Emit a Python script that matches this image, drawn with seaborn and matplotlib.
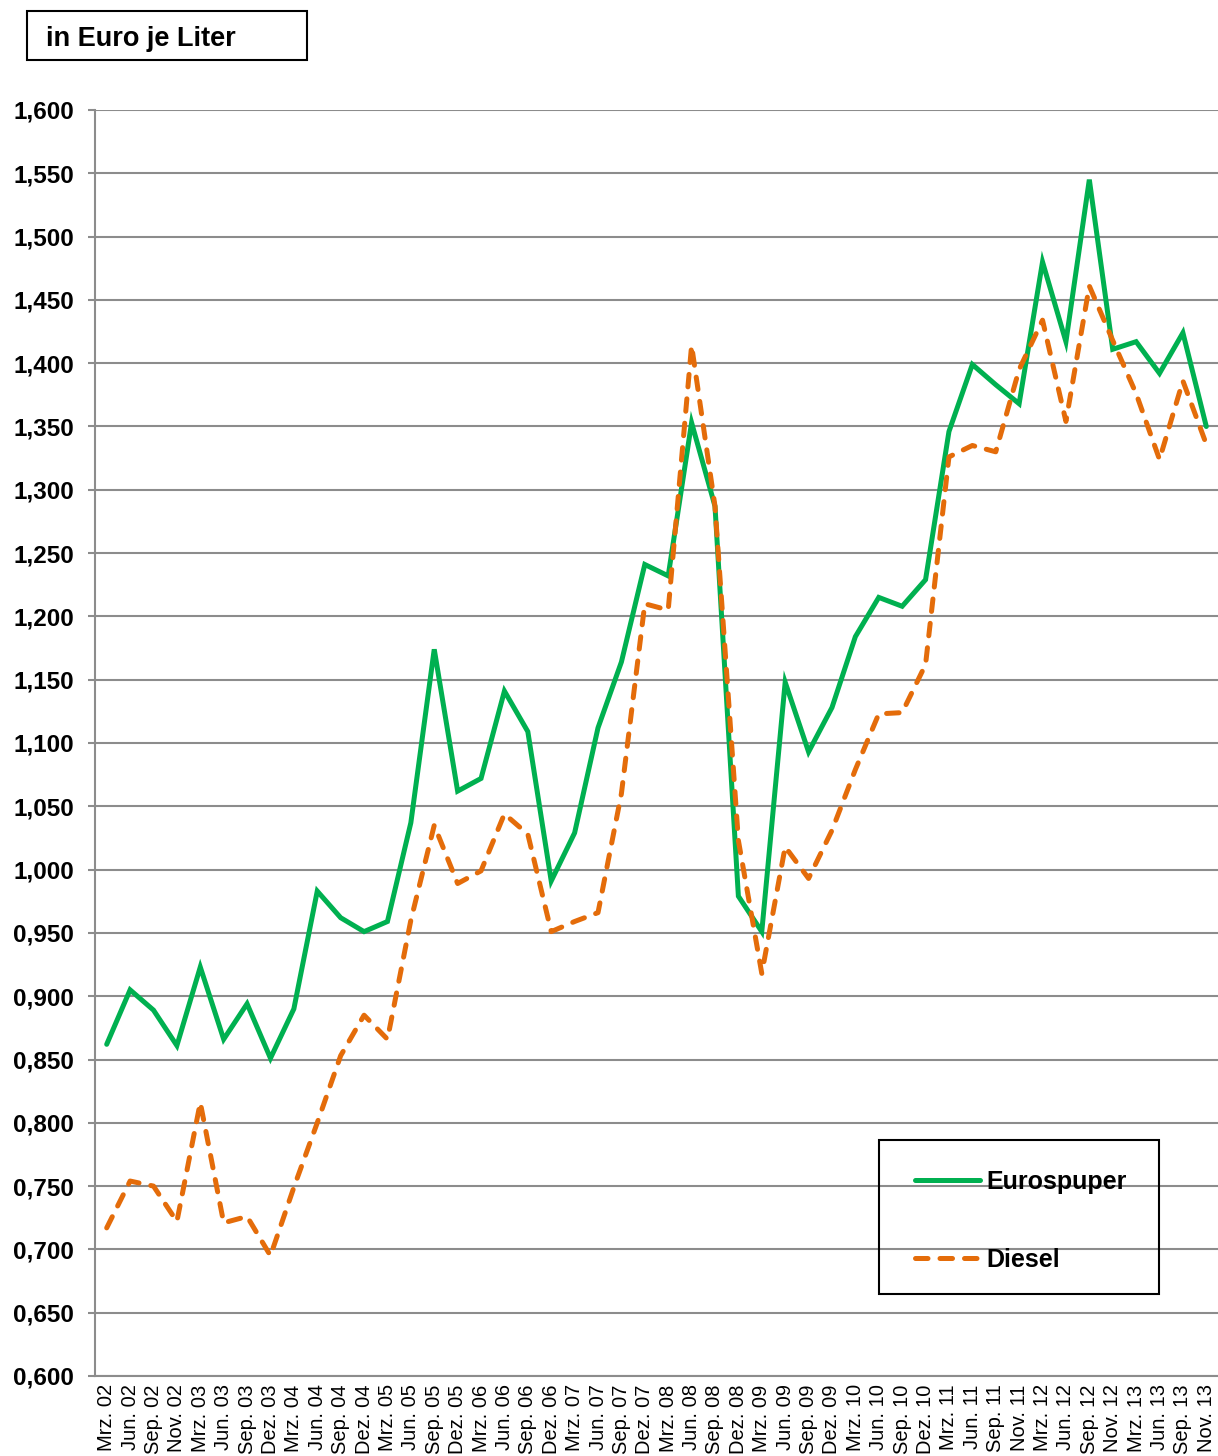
import numpy as np
import pandas as pd
import matplotlib
matplotlib.use("Agg")
import matplotlib.pyplot as plt
from matplotlib.patches import Rectangle
import seaborn as sns

# Quarterly fuel prices, Euro per litre
months = [
    "Mrz. 02", "Jun. 02", "Sep. 02", "Nov. 02",
    "Mrz. 03", "Jun. 03", "Sep. 03", "Dez. 03",
    "Mrz. 04", "Jun. 04", "Sep. 04", "Dez. 04",
    "Mrz. 05", "Jun. 05", "Sep. 05", "Dez. 05",
    "Mrz. 06", "Jun. 06", "Sep. 06", "Dez. 06",
    "Mrz. 07", "Jun. 07", "Sep. 07", "Dez. 07",
    "Mrz. 08", "Jun. 08", "Sep. 08", "Dez. 08",
    "Mrz. 09", "Jun. 09", "Sep. 09", "Dez. 09",
    "Mrz. 10", "Jun. 10", "Sep. 10", "Dez. 10",
    "Mrz. 11", "Jun. 11", "Sep. 11", "Nov. 11",
    "Mrz. 12", "Jun. 12", "Sep. 12", "Nov. 12",
    "Mrz. 13", "Jun. 13", "Sep. 13", "Nov. 13",
]

eurosuper = [
    0.862, 0.905, 0.889, 0.861,
    0.923, 0.866, 0.894, 0.851,
    0.890, 0.983, 0.962, 0.951,
    0.959, 1.037, 1.174, 1.062,
    1.072, 1.141, 1.109, 0.991,
    1.029, 1.112, 1.164, 1.241,
    1.232, 1.353, 1.287, 0.979,
    0.951, 1.148, 1.093, 1.128,
    1.184, 1.215, 1.208, 1.229,
    1.346, 1.399, 1.383, 1.368,
    1.480, 1.417, 1.545, 1.411,
    1.417, 1.392, 1.424, 1.350,
]

diesel = [
    0.717, 0.754, 0.750, 0.722,
    0.816, 0.721, 0.726, 0.695,
    0.749, 0.800, 0.853, 0.885,
    0.866, 0.960, 1.035, 0.989,
    0.999, 1.044, 1.028, 0.951,
    0.959, 0.966, 1.060, 1.210,
    1.205, 1.414, 1.287, 1.023,
    0.918, 1.018, 0.993, 1.031,
    1.079, 1.123, 1.124, 1.162,
    1.326, 1.335, 1.330, 1.395,
    1.434, 1.354, 1.461, 1.418,
    1.376, 1.324, 1.386, 1.336,
]

y_ticks = [0.60, 0.65, 0.70, 0.75, 0.80, 0.85, 0.90, 0.95, 1.00,
           1.05, 1.10, 1.15, 1.20, 1.25, 1.30, 1.35, 1.40, 1.45,
           1.50, 1.55, 1.60]

GREEN = "#00B050"
ORANGE = "#E46C0A"
GRID = "#8C8C8C"

df = pd.DataFrame({
    "pos": np.arange(len(months)),
    "Eurospuper": eurosuper,
    "Diesel": diesel,
})

sns.set_style("white")
plt.rcParams["font.family"] = ["Liberation Sans", "DejaVu Sans"]
plt.rcParams["text.color"] = "black"
plt.rcParams["xtick.labelcolor"] = "black"
plt.rcParams["ytick.labelcolor"] = "black"

W, H = 1218, 1456
fig = plt.figure(figsize=(W / 100, H / 100), dpi=100)
ax = fig.add_axes([95 / W, 1 - 1376 / H, (1218 - 95) / W, (1376 - 110) / H])

sns.lineplot(data=df, x="pos", y="Eurospuper", ax=ax, color=GREEN,
             linewidth=3.6, label="Eurospuper", solid_joinstyle="miter",
             zorder=3)
sns.lineplot(data=df, x="pos", y="Diesel", ax=ax, color=ORANGE,
             linewidth=3.6, linestyle=(0, (2.5, 2.4)),
             dash_capstyle="round", label="Diesel", zorder=4)

ax.set_xlim(-0.5, len(months) - 0.5)
ax.set_ylim(0.6, 1.6)
ax.set_yticks(y_ticks)
ax.set_yticklabels([f"{v:.3f}".replace(".", ",") for v in y_ticks],
                   fontsize=17.5, fontweight="bold", color="black")
ax.set_xticks(df["pos"])
ax.set_xticklabels(months, rotation=90, fontsize=14.5, va="top",
                   ha="center", color="black")
ax.set_xlabel("")
ax.set_ylabel("")

ax.yaxis.grid(True, color=GRID, linewidth=1.5)
ax.xaxis.grid(False)
ax.set_axisbelow(True)
for side in ("top", "right"):
    ax.spines[side].set_visible(False)
for side in ("left", "bottom"):
    ax.spines[side].set_color(GRID)
    ax.spines[side].set_linewidth(1.5)
ax.tick_params(axis="y", which="major", left=True, length=5, width=1.5,
               color=GRID, pad=10)
ax.tick_params(axis="x", which="major", bottom=False, length=0, pad=6)

# Legend entries, with a separately drawn frame around them
leg = ax.legend(loc="upper left", bbox_to_anchor=(915 / W, 1 - 1170 / H),
                bbox_transform=fig.transFigure, borderaxespad=0,
                frameon=False, prop={"weight": "bold", "size": 18},
                handlelength=2.6, handletextpad=0.25, labelspacing=2.15,
                borderpad=0)
for t in leg.get_texts():
    t.set_color("black")
fig.patches.append(Rectangle((879 / W, 1 - 1294 / H), 280 / W, 154 / H,
                             transform=fig.transFigure, fill=False,
                             edgecolor="black", linewidth=1.5, zorder=5))

# Unit caption in a framed box at the top left
fig.patches.append(Rectangle((27 / W, 1 - 60 / H), 280 / W, 49 / H,
                             transform=fig.transFigure, fill=False,
                             edgecolor="black", linewidth=1.5))
fig.text(46 / W, 1 - 38.5 / H, "in Euro je Liter", fontsize=19.5,
         fontweight="bold", va="center", ha="left", color="black")

fig.savefig("out.png", dpi=100, facecolor="white")
